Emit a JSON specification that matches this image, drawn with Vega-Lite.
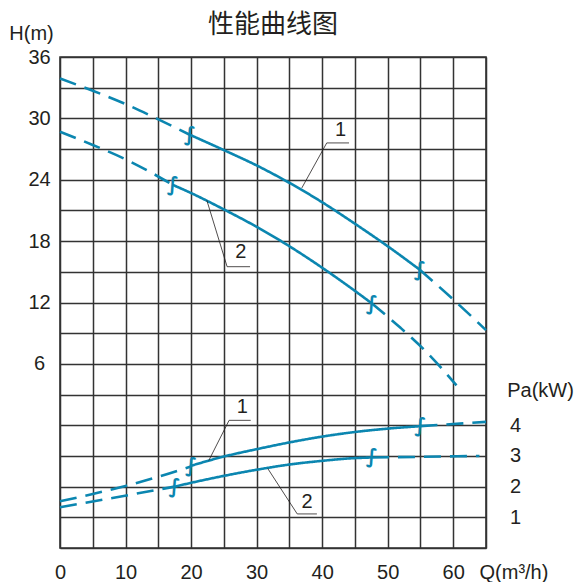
{
  "$schema": "https://vega.github.io/schema/vega-lite/v6.json",
  "width": 426,
  "height": 491,
  "autosize": "none",
  "padding": {"left": 60, "top": 57, "right": 90, "bottom": 34},
  "title": {"text": "性能曲线图", "font": "Noto Sans CJK SC", "fontSize": 26, "fontWeight": "normal", "color": "#231f20", "anchor": "middle", "offset": -15},
  "config": {
    "view": {"stroke": "#333333", "strokeWidth": 1.6},
    "axis": {"labelFont": "Liberation Sans", "labelFontSize": 20, "labelColor": "#231f20", "titleFont": "Liberation Sans", "titleFontSize": 20, "titleFontWeight": "normal", "titleColor": "#231f20", "ticks": false, "tickSize": 0, "domain": false, "gridColor": "#333333", "gridWidth": 1.5, "gridOpacity": 1, "labelOverlap": false, "labelFlush": false}
  },
  "datasets": {
    "curves": [
      {"k": "H", "seg": "H1a", "st": "dash", "Q": 0, "v": 33.9},
      {"k": "H", "seg": "H1a", "st": "dash", "Q": 5, "v": 32.7},
      {"k": "H", "seg": "H1a", "st": "dash", "Q": 10, "v": 31.4},
      {"k": "H", "seg": "H1a", "st": "dash", "Q": 15, "v": 29.9},
      {"k": "H", "seg": "H1a", "st": "dash", "Q": 19.8, "v": 28.4},
      {"k": "H", "seg": "H1b", "st": "solid", "Q": 19.8, "v": 28.4},
      {"k": "H", "seg": "H1b", "st": "solid", "Q": 25, "v": 26.9},
      {"k": "H", "seg": "H1b", "st": "solid", "Q": 30, "v": 25.4},
      {"k": "H", "seg": "H1b", "st": "solid", "Q": 35, "v": 23.7},
      {"k": "H", "seg": "H1b", "st": "solid", "Q": 40, "v": 21.8},
      {"k": "H", "seg": "H1b", "st": "solid", "Q": 45, "v": 19.7},
      {"k": "H", "seg": "H1b", "st": "solid", "Q": 50, "v": 17.5},
      {"k": "H", "seg": "H1b", "st": "solid", "Q": 54.9, "v": 15.2},
      {"k": "H", "seg": "H1c", "st": "dash", "Q": 54.9, "v": 15.2},
      {"k": "H", "seg": "H1c", "st": "dash", "Q": 60, "v": 12.3},
      {"k": "H", "seg": "H1c", "st": "dash", "Q": 65, "v": 9.3},
      {"k": "H", "seg": "H2a", "st": "dash", "Q": 0, "v": 28.7},
      {"k": "H", "seg": "H2a", "st": "dash", "Q": 5, "v": 27.4},
      {"k": "H", "seg": "H2a", "st": "dash", "Q": 10, "v": 26.0},
      {"k": "H", "seg": "H2a", "st": "dash", "Q": 14.2, "v": 24.6},
      {"k": "H", "seg": "H2a", "st": "dash", "Q": 17.2, "v": 23.5},
      {"k": "H", "seg": "H2b", "st": "solid", "Q": 17.2, "v": 23.5},
      {"k": "H", "seg": "H2b", "st": "solid", "Q": 20, "v": 22.7},
      {"k": "H", "seg": "H2b", "st": "solid", "Q": 25, "v": 21.1},
      {"k": "H", "seg": "H2b", "st": "solid", "Q": 30, "v": 19.4},
      {"k": "H", "seg": "H2b", "st": "solid", "Q": 35, "v": 17.5},
      {"k": "H", "seg": "H2b", "st": "solid", "Q": 40, "v": 15.4},
      {"k": "H", "seg": "H2b", "st": "solid", "Q": 44, "v": 13.6},
      {"k": "H", "seg": "H2b", "st": "solid", "Q": 47.6, "v": 11.9},
      {"k": "H", "seg": "H2c", "st": "dash", "Q": 47.6, "v": 11.9},
      {"k": "H", "seg": "H2c", "st": "dash", "Q": 52, "v": 9.5},
      {"k": "H", "seg": "H2c", "st": "dash", "Q": 56, "v": 7.1},
      {"k": "H", "seg": "H2c", "st": "dash", "Q": 60.5, "v": 3.9},
      {"k": "P", "seg": "P1a", "st": "dash", "Q": 0, "v": 1.52},
      {"k": "P", "seg": "P1a", "st": "dash", "Q": 5, "v": 1.76},
      {"k": "P", "seg": "P1a", "st": "dash", "Q": 10, "v": 2.02},
      {"k": "P", "seg": "P1a", "st": "dash", "Q": 15, "v": 2.32},
      {"k": "P", "seg": "P1a", "st": "dash", "Q": 20, "v": 2.66},
      {"k": "P", "seg": "P1b", "st": "solid", "Q": 20, "v": 2.68},
      {"k": "P", "seg": "P1b", "st": "solid", "Q": 25, "v": 2.98},
      {"k": "P", "seg": "P1b", "st": "solid", "Q": 30, "v": 3.22},
      {"k": "P", "seg": "P1b", "st": "solid", "Q": 35, "v": 3.44},
      {"k": "P", "seg": "P1b", "st": "solid", "Q": 40, "v": 3.63},
      {"k": "P", "seg": "P1b", "st": "solid", "Q": 45, "v": 3.78},
      {"k": "P", "seg": "P1b", "st": "solid", "Q": 50, "v": 3.89},
      {"k": "P", "seg": "P1b", "st": "solid", "Q": 55, "v": 3.97},
      {"k": "P", "seg": "P1c", "st": "dash", "Q": 55, "v": 3.97},
      {"k": "P", "seg": "P1c", "st": "dash", "Q": 60, "v": 4.04},
      {"k": "P", "seg": "P1c", "st": "dash", "Q": 65, "v": 4.11},
      {"k": "P", "seg": "P2a", "st": "dash", "Q": 0, "v": 1.33},
      {"k": "P", "seg": "P2a", "st": "dash", "Q": 8, "v": 1.63},
      {"k": "P", "seg": "P2a", "st": "dash", "Q": 17.5, "v": 2.0},
      {"k": "P", "seg": "P2b", "st": "solid", "Q": 17.5, "v": 2.0},
      {"k": "P", "seg": "P2b", "st": "solid", "Q": 21.4, "v": 2.19},
      {"k": "P", "seg": "P2b", "st": "solid", "Q": 25, "v": 2.35},
      {"k": "P", "seg": "P2b", "st": "solid", "Q": 30, "v": 2.55},
      {"k": "P", "seg": "P2b", "st": "solid", "Q": 35, "v": 2.72},
      {"k": "P", "seg": "P2b", "st": "solid", "Q": 40, "v": 2.84},
      {"k": "P", "seg": "P2b", "st": "solid", "Q": 44.2, "v": 2.92},
      {"k": "P", "seg": "P2b", "st": "solid", "Q": 47.6, "v": 2.95},
      {"k": "P", "seg": "P2c", "st": "dash", "Q": 47.6, "v": 2.95},
      {"k": "P", "seg": "P2c", "st": "dash", "Q": 55, "v": 2.97},
      {"k": "P", "seg": "P2c", "st": "dash", "Q": 64, "v": 3.0}
    ],
    "ticks": [
      {"k": "H", "Q": 19.8, "v": 28.4},
      {"k": "H", "Q": 54.9, "v": 15.2},
      {"k": "H", "Q": 17.2, "v": 23.5},
      {"k": "H", "Q": 47.6, "v": 11.9},
      {"k": "P", "Q": 20, "v": 2.66},
      {"k": "P", "Q": 55, "v": 3.97},
      {"k": "P", "Q": 17.5, "v": 2.0},
      {"k": "P", "Q": 47.6, "v": 2.95}
    ],
    "leaders": [
      {"k": "H", "id": "a", "o": 1, "Q": 36.9, "v": 23.2},
      {"k": "H", "id": "a", "o": 2, "Q": 40.7, "v": 27.6},
      {"k": "H", "id": "a", "o": 3, "Q": 44.1, "v": 27.6},
      {"k": "H", "id": "b", "o": 1, "Q": 22.4, "v": 22.0},
      {"k": "H", "id": "b", "o": 2, "Q": 25.5, "v": 15.5},
      {"k": "H", "id": "b", "o": 3, "Q": 29.0, "v": 15.5},
      {"k": "P", "id": "c", "o": 1, "Q": 22.7, "v": 2.85},
      {"k": "P", "id": "c", "o": 2, "Q": 25.8, "v": 4.16},
      {"k": "P", "id": "c", "o": 3, "Q": 29.1, "v": 4.16},
      {"k": "P", "id": "d", "o": 1, "Q": 31.7, "v": 2.59},
      {"k": "P", "id": "d", "o": 2, "Q": 36.2, "v": 1.11},
      {"k": "P", "id": "d", "o": 3, "Q": 39.2, "v": 1.11}
    ],
    "labels": [
      {"k": "H", "Q": 42.8, "v": 28.9, "t": "1"},
      {"k": "H", "Q": 27.6, "v": 16.9, "t": "2"},
      {"k": "P", "Q": 27.8, "v": 4.59, "t": "1"},
      {"k": "P", "Q": 37.7, "v": 1.51, "t": "2"}
    ]
  },
  "encoding": {
    "x": {
      "field": "Q", "type": "quantitative",
      "scale": {"domain": [0, 65], "nice": false, "zero": false},
      "axis": {
        "values": [0, 5, 10, 15, 20, 25, 30, 35, 40, 45, 50, 55, 60, 65],
        "labelExpr": "datum.value % 10 == 0 && datum.value <= 60 ? datum.label : ''",
        "grid": true, "labelBaseline": "middle", "labelPadding": 24,
        "title": "Q(m³/h)", "titleX": 419, "titleY": 24, "titleAlign": "left", "titleBaseline": "middle"
      }
    }
  },
  "layer": [
    {
      "encoding": {
        "y": {
          "field": "v", "type": "quantitative",
          "scale": {"domain": [-12, 36], "nice": false, "zero": false},
          "axis": {
            "orient": "left",
            "values": [-12, -9, -6, -3, 0, 3, 6, 9, 12, 15, 18, 21, 24, 27, 30, 33, 36],
            "labelExpr": "datum.value >= 6 && datum.value % 6 == 0 ? datum.label : ''",
            "grid": true, "labelAlign": "center", "labelBaseline": "middle", "labelPadding": 21,
            "title": "H(m)", "titleAngle": 0, "titleX": -29, "titleY": -24, "titleAlign": "center", "titleBaseline": "middle"
          }
        }
      },
      "layer": [
        {
          "data": {"name": "curves"},
          "transform": [{"filter": "datum.k == 'H'"}],
          "mark": {"type": "line", "color": "#0b86b0", "strokeWidth": 2.6, "interpolate": "monotone"},
          "encoding": {
            "detail": {"field": "seg", "type": "nominal"},
            "order": {"field": "Q", "type": "quantitative"},
            "strokeDash": {"field": "st", "type": "nominal", "scale": {"domain": ["solid", "dash"], "range": [[1, 0], [17, 9]]}, "legend": null}
          }
        },
        {
          "data": {"name": "ticks"},
          "transform": [{"filter": "datum.k == 'H'"}],
          "mark": {"type": "text", "text": "∫", "font": "DejaVu Sans", "fontSize": 20, "fontWeight": "bold", "color": "#0b86b0", "baseline": "middle", "align": "center"},
          "encoding": {}
        },
        {
          "data": {"name": "leaders"},
          "transform": [{"filter": "datum.k == 'H'"}],
          "mark": {"type": "line", "color": "#231f20", "strokeWidth": 0.8},
          "encoding": {
            "detail": {"field": "id", "type": "nominal"},
            "order": {"field": "o", "type": "quantitative"}
          }
        },
        {
          "data": {"name": "labels"},
          "transform": [{"filter": "datum.k == 'H'"}],
          "mark": {"type": "text", "font": "Liberation Sans", "fontSize": 20, "color": "#231f20", "baseline": "middle", "align": "center"},
          "encoding": {"text": {"field": "t", "type": "nominal"}}
        }
      ]
    },
    {
      "encoding": {
        "y": {
          "field": "v", "type": "quantitative",
          "scale": {"domain": [0, 16], "nice": false, "zero": false},
          "axis": {
            "orient": "right",
            "values": [1, 2, 3, 4],
            "grid": false, "labelAlign": "center", "labelBaseline": "middle", "labelPadding": 29,
            "title": "Pa(kW)", "titleAngle": 0, "titleX": 54, "titleY": 333, "titleAlign": "center", "titleBaseline": "middle"
          }
        }
      },
      "layer": [
        {
          "data": {"name": "curves"},
          "transform": [{"filter": "datum.k == 'P'"}],
          "mark": {"type": "line", "color": "#0b86b0", "strokeWidth": 2.6, "interpolate": "monotone"},
          "encoding": {
            "detail": {"field": "seg", "type": "nominal"},
            "order": {"field": "Q", "type": "quantitative"},
            "strokeDash": {"field": "st", "type": "nominal", "scale": {"domain": ["solid", "dash"], "range": [[1, 0], [17, 9]]}, "legend": null}
          }
        },
        {
          "data": {"name": "ticks"},
          "transform": [{"filter": "datum.k == 'P'"}],
          "mark": {"type": "text", "text": "∫", "font": "DejaVu Sans", "fontSize": 20, "fontWeight": "bold", "color": "#0b86b0", "baseline": "middle", "align": "center"},
          "encoding": {}
        },
        {
          "data": {"name": "leaders"},
          "transform": [{"filter": "datum.k == 'P'"}],
          "mark": {"type": "line", "color": "#231f20", "strokeWidth": 0.8},
          "encoding": {
            "detail": {"field": "id", "type": "nominal"},
            "order": {"field": "o", "type": "quantitative"}
          }
        },
        {
          "data": {"name": "labels"},
          "transform": [{"filter": "datum.k == 'P'"}],
          "mark": {"type": "text", "font": "Liberation Sans", "fontSize": 20, "color": "#231f20", "baseline": "middle", "align": "center"},
          "encoding": {"text": {"field": "t", "type": "nominal"}}
        }
      ]
    }
  ],
  "resolve": {"scale": {"y": "independent"}}
}
